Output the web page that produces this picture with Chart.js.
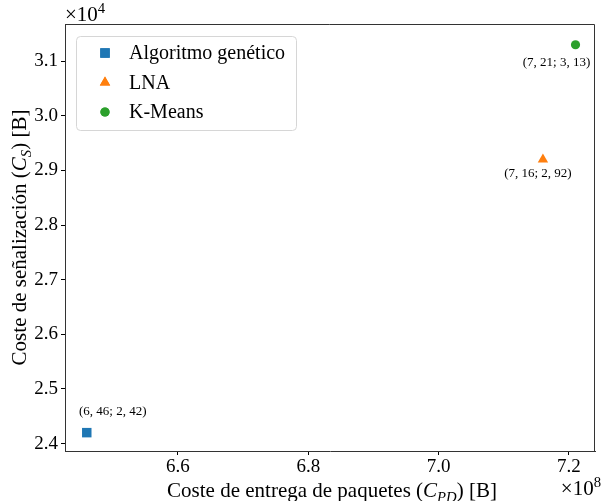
<!DOCTYPE html>
<html>
<head>
<meta charset="utf-8">
<script src="https://cdn.jsdelivr.net/npm/chart.js@4/dist/chart.umd.min.js"></script>
<style>
  html, body { margin: 0; padding: 0; background: #fff; }
  #wrap { width: 603px; height: 501px; }
</style>
</head>
<body>
<div id="wrap"><canvas id="chart" width="603" height="501"></canvas></div>
<script>
/* Scatter: packet delivery cost vs signalling cost */

const SERIES = ['Algoritmo genético', 'LNA', 'K-Means'];
const COLORS = ['#1f77b4', '#ff7f0e', '#2ca02c'];
const STYLES = ['rect', 'triangle', 'circle'];
const RADII = [6.7, 6, 4.6];
const X_VALUES = [6.46e8, 7.16e8, 7.21e8];
const Y_VALUES = [2.42e4, 2.92e4, 3.13e4];
const POINT_LABELS = ['(6, 46; 2, 42)', '(7, 16; 2, 92)', '(7, 21; 3, 13)'];
const X_TICKS = [6.6e8, 6.8e8, 7.0e8, 7.2e8];
const Y_TICKS = [2.4e4, 2.5e4, 2.6e4, 2.7e4, 2.8e4, 2.9e4, 3.0e4, 3.1e4];

// annotation offsets from each point, in px
const LABEL_DX = [26, -5, -19];
const LABEL_DY = [-21, 14, 18];

const SERIF = '"Liberation Serif", "DejaVu Serif", serif';

// draw a run of segments: {t, it, sub, sup}
function richText(ctx, segs, x, y, size, align) {
  const fontOf = s => `${s.it ? 'italic ' : ''}${(s.sub || s.sup) ? size * 0.7 : size}px ${SERIF}`;
  const widths = segs.map(s => { ctx.font = fontOf(s); return ctx.measureText(s.t).width; });
  const total = widths.reduce((a, b) => a + b, 0);
  let cx = align === 'center' ? x - total / 2 : align === 'right' ? x - total : x;
  ctx.textAlign = 'left';
  ctx.textBaseline = 'alphabetic';
  segs.forEach((s, i) => {
    ctx.font = fontOf(s);
    const dy = s.sub ? size * 0.25 : s.sup ? -size * 0.4 : 0;
    ctx.fillText(s.t, cx, y + dy);
    cx += widths[i];
  });
}

const decorations = {
  id: 'decorations',
  afterDraw(chart) {
    const { ctx, chartArea: a, scales } = chart;
    ctx.save();
    // top and right spines
    ctx.strokeStyle = '#333';
    ctx.lineWidth = 1;
    ctx.beginPath();
    ctx.moveTo(a.left, a.top + 0.5);
    ctx.lineTo(a.right - 0.5, a.top + 0.5);
    ctx.lineTo(a.right - 0.5, a.bottom);
    ctx.stroke();

    ctx.fillStyle = '#000';
    // point annotations
    POINT_LABELS.forEach((txt, i) => {
      const px = scales.x.getPixelForValue(X_VALUES[i]);
      const py = scales.y.getPixelForValue(Y_VALUES[i]);
      ctx.font = `13px ${SERIF}`;
      ctx.textAlign = 'center';
      ctx.textBaseline = 'middle';
      ctx.fillText(txt, px + LABEL_DX[i], py + LABEL_DY[i]);
    });

    // axis titles
    richText(ctx, [
      { t: 'Coste de entrega de paquetes (' }, { t: 'C', it: true }, { t: 'PD', it: true, sub: true }, { t: ') [B]' }
    ], 332, 497, 21, 'center');

    ctx.save();
    ctx.translate(26, (a.top + a.bottom) / 2);
    ctx.rotate(-Math.PI / 2);
    richText(ctx, [
      { t: 'Coste de señalización (' }, { t: 'C', it: true }, { t: 'S', it: true, sub: true }, { t: ') [B]' }
    ], 0, 0, 21, 'center');
    ctx.restore();

    // offset labels
    richText(ctx, [{ t: '×10' }, { t: '4', sup: true }], a.left, 21, 21, 'left');
    richText(ctx, [{ t: '×10' }, { t: '8', sup: true }], 601, 495, 21, 'right');

    // legend
    const lx = 76, ly = 36, lw = 220, lh = 94;
    ctx.beginPath();
    ctx.roundRect(lx + 0.5, ly + 0.5, lw, lh, 4);
    ctx.fillStyle = 'rgba(255,255,255,0.8)';
    ctx.fill();
    ctx.strokeStyle = '#d6d6d6';
    ctx.stroke();
    SERIES.forEach((name, i) => {
      const ry = 53 + i * 29.5;
      ctx.fillStyle = COLORS[i];
      Chart.helpers.drawPoint(ctx, { pointStyle: STYLES[i], radius: RADII[i], rotation: 0, borderWidth: 0 }, 105, ry);
      ctx.fill();
      ctx.fillStyle = '#000';
      ctx.font = `20px ${SERIF}`;
      ctx.textAlign = 'left';
      ctx.textBaseline = 'middle';
      ctx.fillText(name, 129, ry + 1);
    });
    ctx.restore();
  }
};

const datasets = SERIES.map((name, i) => ({
  label: name,
  data: [{ x: X_VALUES[i], y: Y_VALUES[i] }],
  pointStyle: STYLES[i],
  pointRadius: RADII[i],
  backgroundColor: COLORS[i],
  borderColor: COLORS[i],
  borderWidth: 0,
}));

const tickFont = { family: SERIF, size: 19 };

new Chart(document.getElementById('chart'), {
  type: 'scatter',
  data: { datasets },
  options: {
    responsive: false,
    animation: false,
    layout: { padding: { top: 24, right: 8, left: 0, bottom: 0 } },
    plugins: { legend: { display: false }, tooltip: { enabled: false } },
    scales: {
      x: {
        min: 6.4266e8,
        max: 7.2399e8,
        afterFit: s => { s.height = 50; },
        afterBuildTicks: s => { s.ticks = X_TICKS.map(v => ({ value: v })); },
        ticks: { color: '#000', font: tickFont, padding: 1, maxRotation: 0, callback: v => (v / 1e8).toFixed(1) },
        grid: { drawOnChartArea: false, drawTicks: true, tickLength: 4, color: '#000' },
        border: { display: true, color: '#333', width: 1 },
      },
      y: {
        min: 2.3864e4,
        max: 3.168e4,
        afterFit: s => { s.width = 65; },
        afterBuildTicks: s => { s.ticks = Y_TICKS.map(v => ({ value: v })); },
        ticks: { color: '#000', font: tickFont, padding: 3, callback: v => (v / 1e4).toFixed(1) },
        grid: { drawOnChartArea: false, drawTicks: true, tickLength: 4, color: '#000' },
        border: { display: true, color: '#333', width: 1 },
      },
    },
  },
  plugins: [decorations],
});
</script>
</body>
</html>
